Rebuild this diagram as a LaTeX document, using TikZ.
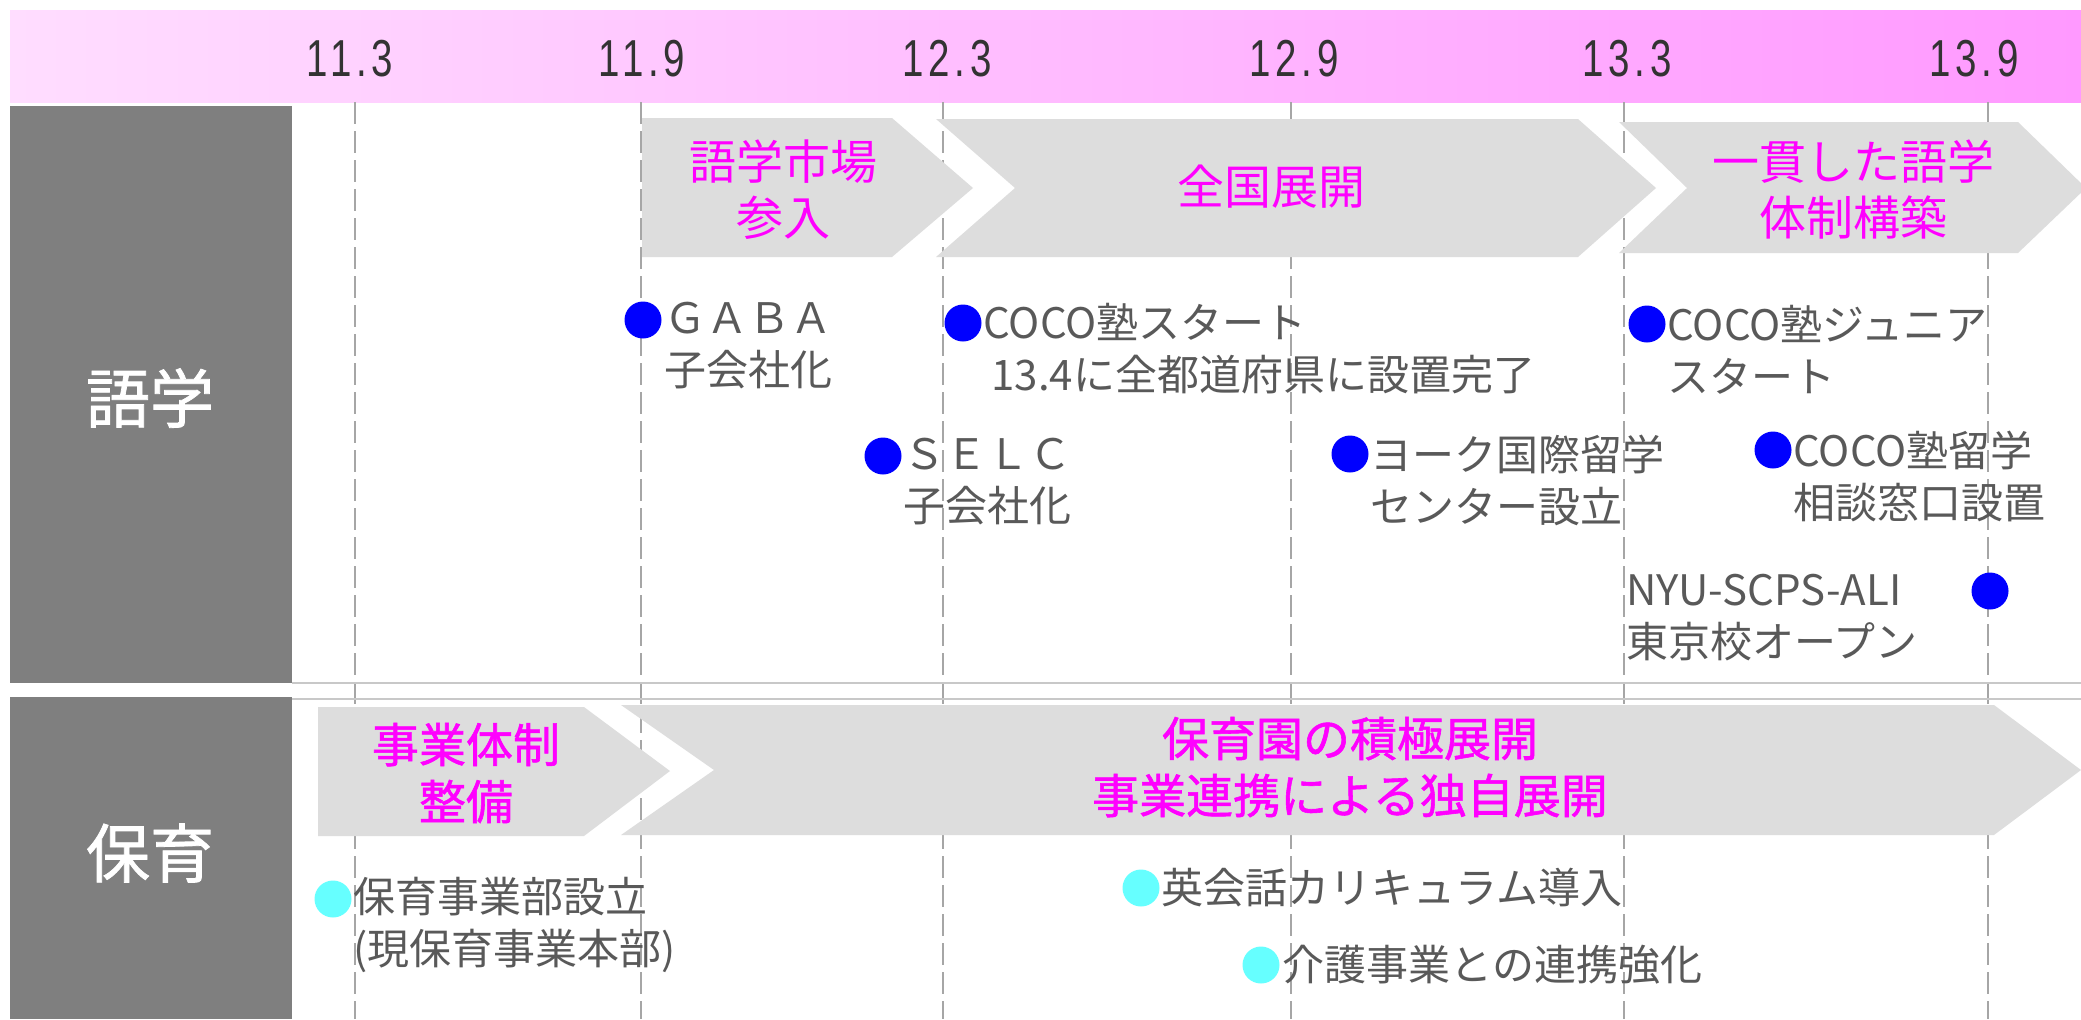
\documentclass[tikz,border=0pt]{standalone}
\usepackage{fontspec}
\setmainfont{Noto Sans CJK JP}
\newfontfamily\jp{Noto Sans CJK JP}
\newfontfamily\jpb[FakeBold=1.2]{Noto Sans CJK JP}
\newfontfamily\numf[FakeStretch=0.74,LetterSpace=9]{Liberation Sans}
\definecolor{hdrL}{HTML}{FFDDFF}
\definecolor{hdrR}{HTML}{FF99FF}
\definecolor{labgray}{HTML}{7F7F7F}
\definecolor{chevgray}{HTML}{DDDDDD}
\definecolor{linegray}{HTML}{A6A6A6}
\definecolor{sepgray}{HTML}{C8C8C8}
\definecolor{evgray}{HTML}{595959}
\definecolor{numgray}{HTML}{333333}
\definecolor{ttlmag}{HTML}{FF00FF}
\definecolor{dotblue}{HTML}{0000FF}
\definecolor{dotcyan}{HTML}{66FFFF}
\begin{document}
\begin{tikzpicture}[x=0.5pt,y=-0.5pt,
  vline/.style={draw=linegray, line width=1pt, dash pattern=on 11pt off 3.5pt},
  sepline/.style={draw=sepgray, line width=0.8pt},
  chev/.style={fill=chevgray},
  num/.style={inner sep=0pt, text=numgray, font=\numf\fontsize{26}{30}\selectfont},
  sect/.style={inner sep=0pt, text=white, font=\jpb\fontsize{32}{36}\selectfont},
  ttl/.style={inner sep=0pt, align=center, text=ttlmag, font=\jp\fontsize{23.5}{28}\selectfont},
  ttlb/.style={inner sep=0pt, align=center, text=ttlmag, font=\jpb\fontsize{23.5}{28.5}\selectfont},
  ev/.style={anchor=west, inner sep=0pt, align=left, text=evgray, font=\jp\fontsize{21}{26}\selectfont},
  bdot/.style={circle, fill=dotblue, minimum size=18.5pt, inner sep=0pt},
  cdot/.style={circle, fill=dotcyan, minimum size=18.5pt, inner sep=0pt}]
\useasboundingbox (0,0) rectangle (2081,1019);
\fill[white] (0,0) rectangle (2081,1019);
% header band
\shade[left color=hdrL, right color=hdrR] (10,10) rectangle (2081,102);
% vertical dashed lines
\foreach \x in {355,641,943,1291,1624,1988} \draw[vline] (\x,102) -- (\x,1019);
% separators
\draw[sepline] (292,683) -- (2081,683);
\draw[sepline] (292,699) -- (2081,699);
% section label boxes
\fill[labgray] (10,106) rectangle (292,683);
\fill[labgray] (10,697) rectangle (292,1019);
\node[sect] (s1) at (150,398) {語学};
\node[sect] (s2) at (150,853) {保育};
% header numbers
\node[num] (n1) at (350,59) {11.3};
\node[num] (n2) at (642,59) {11.9};
\node[num] (n3) at (947,59) {12.3};
\node[num] (n4) at (1294,59) {12.9};
\node[num] (n5) at (1627,59) {13.3};
\node[num] (n6) at (1974,59) {13.9};
% chevrons row 1
\fill[chev] (642,118) -- (892,118) -- (973,188) -- (892,257) -- (642,257) -- cycle;
\fill[chev] (936,119) -- (1578,119) -- (1656,188) -- (1578,257) -- (936,257) -- (1015,188) -- cycle;
\fill[chev] (1619,122) -- (2018,122) -- (2086,188) -- (2018,253) -- (1619,253) -- (1687,188) -- cycle;
\node[ttl] (t1) at (783,190) {語学市場\\参入};
\node[ttl] (t2) at (1271,187) {全国展開};
\node[ttl] (t3) at (1853,189) {一貫した語学\\体制構築};
% chevrons row 2
\fill[chev] (318,707) -- (584,707) -- (670,771) -- (584,836) -- (318,836) -- cycle;
\fill[chev] (621,705) -- (1994,705) -- (2081,770) -- (1994,835) -- (621,835) -- (714,770) -- cycle;
\node[ttlb] (t4) at (466,773) {事業体制\\整備};
\node[ttlb] (t5) at (1350,767) {保育園の積極展開\\事業連携による独自展開};
% language events
\node[bdot] (d1) at (643,320) {};
\node[ev] (e1) at (664,346) {ＧＡＢＡ\\子会社化};
\node[bdot] (d2) at (963,323) {};
\node[ev] (e2) at (983,349) {COCO塾スタート\\\hspace*{4pt}13.4に全都道府県に設置完了};
\node[bdot] (d3) at (883,456) {};
\node[ev] (e3) at (903,482) {ＳＥＬＣ\\子会社化};
\node[bdot] (d4) at (1350,454) {};
\node[ev] (e4) at (1370,480) {ヨーク国際留学\\センター設立};
\node[bdot] (d5) at (1647,324) {};
\node[ev] (e5) at (1667,350) {COCO塾ジュニア\\スタート};
\node[bdot] (d6) at (1773,450) {};
\node[ev] (e6) at (1793,476) {COCO塾留学\\相談窓口設置};
\node[bdot] (d7) at (1990,591) {};
\node[ev] (e7) at (1626,618) {NYU-SCPS-ALI\\東京校オープン};
% childcare events
\node[cdot] (d8) at (333,899) {};
\node[ev] (e8) at (353,925) {保育事業部設立\\(現保育事業本部)};
\node[cdot] (d9) at (1141,888) {};
\node[ev] (e9) at (1161,888) {英会話カリキュラム導入};
\node[cdot] (d10) at (1261,965) {};
\node[ev] (e10) at (1282,965) {介護事業との連携強化};
\end{tikzpicture}
\end{document}
